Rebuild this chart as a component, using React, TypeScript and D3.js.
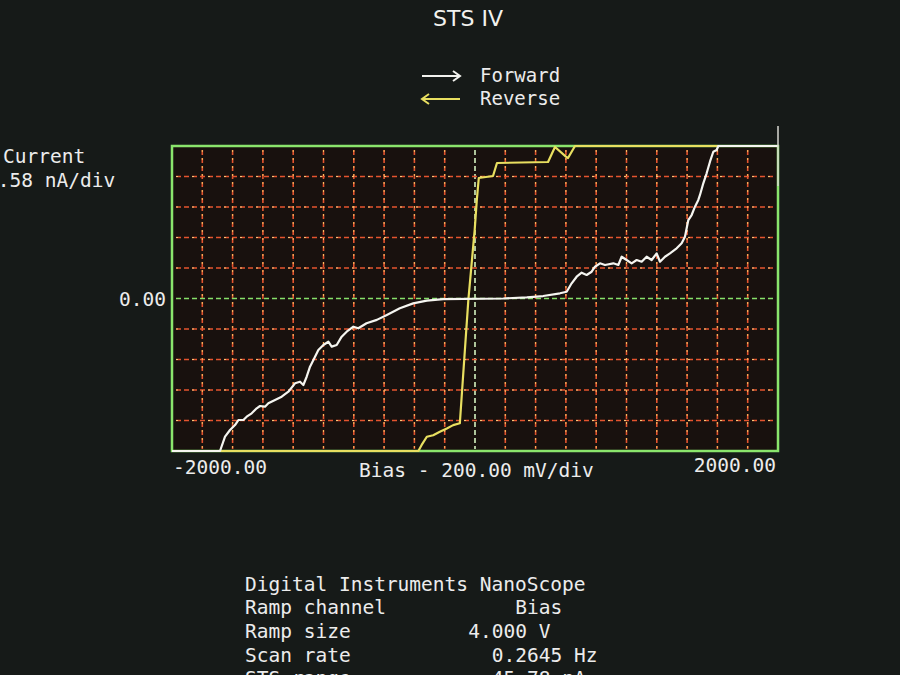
import { useEffect, useRef } from 'react';
import * as d3 from 'd3';

// forward sweep (white), bias in mV, current in nA
const fwdBias = [-2000, -1683, -1650, -1617, -1584, -1562, -1529, -1507, -1474, -1441, -1419, -1386, -1364, -1320, -1276, -1232, -1188, -1155, -1133, -1111, -1089, -1056, -1034, -1001, -968, -946, -913, -880, -847, -803, -770, -716, -648, -582, -496, -408, -318, -210, 186, 342, 450, 561, 605, 638, 671, 704, 737, 770, 792, 825, 858, 913, 946, 968, 1001, 1034, 1067, 1100, 1133, 1166, 1199, 1221, 1254, 1287, 1331, 1364, 1386, 1408, 1430, 1452, 1474, 1485, 1507, 1529, 1551, 1573, 1595, 1606, 2000];
const fwdCurrent = [-22.89, -22.89, -20.74, -19.74, -18.99, -18.24, -18.24, -17.74, -17.23, -16.48, -16.14, -16.24, -15.73, -15.24, -14.74, -13.99, -12.73, -12.49, -12.98, -11.74, -10.24, -8.75, -7.73, -6.98, -6.49, -7.23, -6.98, -5.73, -4.98, -4.23, -4.47, -3.71, -3.21, -2.47, -1.47, -0.73, -0.32, -0.09, 0, 0.18, 0.37, 0.78, 1.02, 2.28, 3.27, 3.87, 3.53, 4.02, 4.77, 5.28, 5.03, 5.28, 5.03, 6.27, 5.78, 5.28, 5.78, 5.52, 6.27, 5.78, 6.78, 5.52, 6.27, 6.78, 7.54, 8.29, 9.28, 11.78, 12.53, 13.78, 14.79, 15.54, 17.29, 18.79, 20.53, 22.03, 22.29, 22.89, 22.89];

// reverse sweep (yellow)
const revBias = [2000, 660, 614, 600, 528, 482, 145, 119, 25, 12, -2, -44, -88, -100, -144, -186, -232, -276, -318, -352, -374, -2000];
const revCurrent = [22.89, 22.89, 21.09, 21.3, 22.74, 20.49, 20.34, 18.39, 18.09, 14.79, 10.31, -0.23, -14.75, -18.73, -19.01, -19.51, -20.01, -20.52, -20.75, -21.98, -22.89, -22.89];

const biasRange = [-2000, 2000];
const biasStep = 200;
const currentStep = 4.578;
const currentDivs = 5;

const infoLabels = ['Ramp channel', 'Ramp size', 'Scan rate', 'STS range'];
const infoValues = ['Bias', '4.000 V', '0.2645 Hz', '45.78 nA'];
const infoValueCols = [23, 19, 21, 21];

const W = 900;
const H = 675;

export default function App() {
  const svgRef = useRef<SVGSVGElement>(null);

  useEffect(() => {
    const svg = d3.select(svgRef.current);
    svg.selectAll('*').remove();

    const mono = '"DejaVu Sans Mono", monospace';
    const left = 172, right = 778, top = 146, bottom = 451;

    const x = d3.scaleLinear().domain(biasRange).range([left, right]);
    const y = d3
      .scaleLinear()
      .domain([-currentDivs * currentStep, currentDivs * currentStep])
      .range([bottom, top]);

    svg.append('rect').attr('width', W).attr('height', H).attr('fill', '#161a18');

    // plot interior
    svg
      .append('rect')
      .attr('x', left)
      .attr('y', top)
      .attr('width', right - left)
      .attr('height', bottom - top)
      .attr('fill', '#18110e');

    const xTicks = d3.range(biasRange[0] + biasStep, biasRange[1], biasStep);
    const yTicks = d3.range(-currentDivs + 1, currentDivs).map((i) => i * currentStep);

    const grid = svg.append('g');
    // vertical grid
    grid
      .selectAll('.vg')
      .data(xTicks)
      .enter()
      .append('line')
      .attr('x1', (d) => x(d))
      .attr('x2', (d) => x(d))
      .attr('y1', top + 4)
      .attr('y2', bottom - 2)
      .attr('stroke', (d) => (d === 0 ? '#d4f2c0' : '#e4542f'))
      .attr('stroke-width', 1.6)
      .attr('stroke-dasharray', '5 3');
    // horizontal grid
    grid
      .selectAll('.hg')
      .data(yTicks)
      .enter()
      .append('line')
      .attr('x1', left + 4)
      .attr('x2', right - 2)
      .attr('y1', (d) => y(d))
      .attr('y2', (d) => y(d))
      .attr('stroke', (d) => (Math.abs(d) < 1e-6 ? '#86e06a' : '#e4542f'))
      .attr('stroke-width', 1.6)
      .attr('stroke-dasharray', '5 3');
    // yellow sparkle on grid
    grid
      .selectAll('.vs')
      .data(xTicks.filter((d) => d !== 0))
      .enter()
      .append('line')
      .attr('x1', (d) => x(d))
      .attr('x2', (d) => x(d))
      .attr('y1', top + 4)
      .attr('y2', bottom - 2)
      .attr('stroke', '#f5c060')
      .attr('stroke-width', 1)
      .attr('stroke-dasharray', '2 6');
    grid
      .selectAll('.hs')
      .data(yTicks.filter((d) => Math.abs(d) > 1e-6))
      .enter()
      .append('line')
      .attr('x1', left + 4)
      .attr('x2', right - 2)
      .attr('y1', (d) => y(d))
      .attr('y2', (d) => y(d))
      .attr('stroke', '#f5c878')
      .attr('stroke-width', 1)
      .attr('stroke-dasharray', '2 14');

    // frame
    svg
      .append('rect')
      .attr('x', left)
      .attr('y', top)
      .attr('width', right - left)
      .attr('height', bottom - top)
      .attr('fill', 'none')
      .attr('stroke', '#8ae56c')
      .attr('stroke-width', 2.5);

    const line = d3
      .line<[number, number]>()
      .x((d) => x(d[0]))
      .y((d) => y(d[1]));

    const rev = revBias.map((b, i) => [b, revCurrent[i]] as [number, number]);
    const fwd = fwdBias.map((b, i) => [b, fwdCurrent[i]] as [number, number]);

    svg
      .append('path')
      .attr('d', line(rev))
      .attr('fill', 'none')
      .attr('stroke', '#e8df60')
      .attr('stroke-width', 2.2)
      .attr('stroke-linejoin', 'round');
    svg
      .append('path')
      .attr('d', line(fwd))
      .attr('fill', 'none')
      .attr('stroke', '#f5f5f0')
      .attr('stroke-width', 2.2)
      .attr('stroke-linejoin', 'round');

    // marker at the end of the ramp
    svg
      .append('line')
      .attr('x1', x(biasRange[1]))
      .attr('x2', x(biasRange[1]))
      .attr('y1', top - 20)
      .attr('y2', top + 40)
      .attr('stroke', '#d8d8d0')
      .attr('stroke-width', 1.5);

    // title
    svg
      .append('text')
      .attr('x', 468)
      .attr('y', 26)
      .attr('text-anchor', 'middle')
      .style('font-family', '"DejaVu Sans", sans-serif')
      .style('font-size', '22px')
      .style('fill', '#f2f2ee')
      .text('STS IV');

    // legend
    const legend = [
      { label: 'Forward', color: '#f2f2ee', dir: 1, yy: 76 },
      { label: 'Reverse', color: '#e8df60', dir: -1, yy: 99 },
    ];
    legend.forEach((l) => {
      const x0 = 422, x1 = 460;
      svg
        .append('line')
        .attr('x1', x0)
        .attr('x2', x1)
        .attr('y1', l.yy)
        .attr('y2', l.yy)
        .attr('stroke', l.color)
        .attr('stroke-width', 2);
      const tip = l.dir > 0 ? x1 : x0;
      const back = tip - l.dir * 7;
      svg
        .append('path')
        .attr('d', `M${back},${l.yy - 5} L${tip},${l.yy} L${back},${l.yy + 5}`)
        .attr('fill', 'none')
        .attr('stroke', l.color)
        .attr('stroke-width', 2);
      svg
        .append('text')
        .attr('x', 480)
        .attr('y', l.yy + 6)
        .style('font-family', mono)
        .style('font-size', '19px')
        .style('fill', '#ececec')
        .text(l.label);
    });

    const txt = (tx: number, ty: number, s: string, anchor = 'start') =>
      svg
        .append('text')
        .attr('x', tx)
        .attr('y', ty)
        .attr('text-anchor', anchor)
        .style('font-family', mono)
        .style('font-size', '19.5px')
        .style('fill', '#ececec')
        .text(s);

    // y axis labels (the first digit runs off the left edge, as on the screen)
    txt(3, 163, 'Current');
    txt(-14, 187, `${currentStep.toFixed(2)} nA/div`);
    txt(left - 6, y(0) + 7, '0.00', 'end');

    // x axis labels
    txt(left + 1, 474, biasRange[0].toFixed(2));
    txt(right - 2, 472, biasRange[1].toFixed(2), 'end');
    txt(359, 477, `Bias - ${biasStep.toFixed(2)} mV/div`);

    // info block
    const cw = 11.75;
    const bx = 245;
    txt(bx, 591, 'Digital Instruments NanoScope');
    infoLabels.forEach((lab, i) => {
      const yy = 614 + i * 23.8;
      txt(bx, yy, lab);
      txt(bx + infoValueCols[i] * cw, yy, infoValues[i]);
    });
  }, []);

  return (
    <svg
      ref={svgRef}
      width={W}
      height={H}
      style={{ position: 'fixed', left: 0, top: 0, display: 'block' }}
    />
  );
}
